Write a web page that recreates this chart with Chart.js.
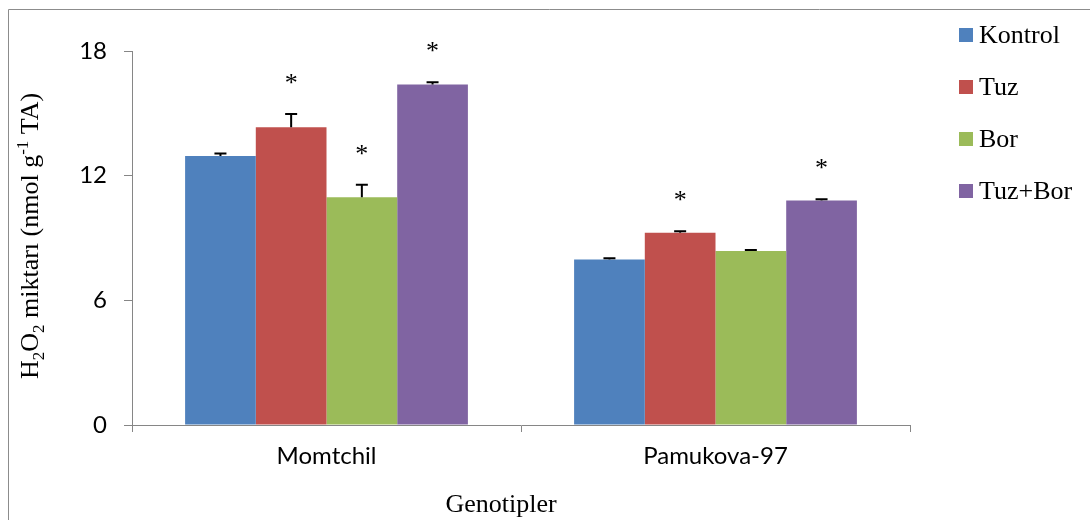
<!DOCTYPE html>
<html>
<head>
<meta charset="utf-8">
<script src="https://cdn.jsdelivr.net/npm/chart.js@4"></script>
<style>
  html, body { margin: 0; padding: 0; background: #fff; }
  #wrap { width: 1090px; height: 520px; position: relative; }
</style>
</head>
<body>
<div id="wrap"><canvas id="h2o2Chart" width="1090" height="520"></canvas></div>
<script>
const genotypes = ["Momtchil", "Pamukova-97"];
const seriesNames = ["Kontrol", "Tuz", "Bor", "Tuz+Bor"];
const seriesColors = ["#4F81BD", "#C0504D", "#9BBB59", "#8064A2"];

// mean values per treatment (Momtchil, Pamukova-97)
const kontrol = [12.95, 7.97];
const tuz = [14.33, 9.25];
const bor = [10.96, 8.37];
const tuzBor = [16.39, 10.81];

// standard errors (drawn upward only)
const kontrolErr = [0.12, 0.05];
const tuzErr = [0.64, 0.07];
const borErr = [0.6, 0.05];
const tuzBorErr = [0.1, 0.05];

// significance marks
const kontrolSig = ["", ""];
const tuzSig = ["*", "*"];
const borSig = ["*", ""];
const tuzBorSig = ["*", "*"];

const yTicks = [0, 6, 12, 18];

const allValues = [kontrol, tuz, bor, tuzBor];
const allErrs = [kontrolErr, tuzErr, borErr, tuzBorErr];
const allSigs = [kontrolSig, tuzSig, borSig, tuzBorSig];

const AXIS_GRAY = "#868686";
const SERIF = "'Liberation Serif', 'Times New Roman', serif";

// error bars + asterisks on top of each bar
const errorBarPlugin = {
  id: "errorBars",
  afterDatasetsDraw(chart) {
    const { ctx, scales } = chart;
    const y = scales.y;
    ctx.save();
    chart.data.datasets.forEach((ds, i) => {
      const meta = chart.getDatasetMeta(i);
      meta.data.forEach((bar, j) => {
        const top = y.getPixelForValue(allValues[i][j] + allErrs[i][j]);
        ctx.strokeStyle = "#000";
        ctx.lineWidth = 2;
        ctx.beginPath();
        ctx.moveTo(bar.x, bar.y);
        ctx.lineTo(bar.x, top);
        ctx.moveTo(bar.x - 6, top);
        ctx.lineTo(bar.x + 6, top);
        ctx.stroke();
        if (allSigs[i][j]) {
          ctx.fillStyle = "#000";
          ctx.font = "26px " + SERIF;
          ctx.textAlign = "center";
          ctx.textBaseline = "alphabetic";
          ctx.fillText(allSigs[i][j], bar.x, top - 35 + 12);
        }
      });
    });
    ctx.restore();
  }
};

// legend, axis titles (with sub/superscripts) and outer frame
const decorPlugin = {
  id: "decor",
  afterDraw(chart) {
    const { ctx } = chart;
    ctx.save();

    // frame
    ctx.strokeStyle = "#8c8c8c";
    ctx.lineWidth = 1;
    ctx.beginPath();
    ctx.moveTo(8.5, 520);
    ctx.lineTo(8.5, 9.5);
    ctx.lineTo(1090, 9.5);
    ctx.stroke();

    // legend
    ctx.font = "26px " + SERIF;
    ctx.textAlign = "left";
    ctx.textBaseline = "alphabetic";
    seriesNames.forEach((name, i) => {
      const cy = 35 + i * 52;
      ctx.fillStyle = seriesColors[i];
      ctx.fillRect(959, cy - 7, 14, 14);
      ctx.fillStyle = "#000";
      ctx.fillText(name, 979, cy + 8);
    });

    // x title
    ctx.textAlign = "center";
    ctx.fillText("Genotipler", 501, 512);

    // y title, rotated, with H2O2 subscripts and g-1 superscript
    const parts = [
      { t: "H" }, { t: "2", off: 6 }, { t: "O" }, { t: "2", off: 6 },
      { t: " miktarı (nmol g" }, { t: "-1", off: -10 }, { t: " TA)" }
    ];
    const big = "26px " + SERIF, small = "17px " + SERIF;
    let total = 0;
    parts.forEach(p => {
      ctx.font = p.off ? small : big;
      p.w = ctx.measureText(p.t).width;
      total += p.w;
    });
    ctx.translate(38, 236);
    ctx.rotate(-Math.PI / 2);
    ctx.textAlign = "left";
    let x = -total / 2;
    parts.forEach(p => {
      ctx.font = p.off ? small : big;
      ctx.fillText(p.t, x, p.off || 0);
      x += p.w;
    });
    ctx.restore();
  }
};

const datasets = seriesNames.map((name, i) => ({
  label: name,
  data: allValues[i],
  backgroundColor: seriesColors[i],
  borderWidth: 0,
  categoryPercentage: 0.727,
  barPercentage: 1.0
}));

new Chart(document.getElementById("h2o2Chart"), {
  type: "bar",
  data: { labels: genotypes, datasets },
  options: {
    responsive: false,
    animation: false,
    layout: { padding: { left: 0, top: 51, right: 180, bottom: 0 } },
    plugins: { legend: { display: false }, tooltip: { enabled: false } },
    scales: {
      x: {
        afterFit(scale) { scale.height = 95; },
        grid: { drawOnChartArea: false, tickLength: 7, color: AXIS_GRAY, offset: true },
        border: { color: AXIS_GRAY, width: 1 },
        ticks: { color: "#000", padding: 10, font: { family: "Lato", size: 24 } }
      },
      y: {
        min: 0,
        max: 18,
        afterFit(scale) { scale.width = 132; },
        afterBuildTicks(scale) { scale.ticks = yTicks.map(v => ({ value: v })); },
        grid: { drawOnChartArea: false, tickLength: 8, color: AXIS_GRAY },
        border: { color: AXIS_GRAY, width: 1 },
        ticks: { color: "#000", padding: 17, font: { family: "Lato", size: 24 } }
      }
    }
  },
  plugins: [errorBarPlugin, decorPlugin]
});
</script>
</body>
</html>
